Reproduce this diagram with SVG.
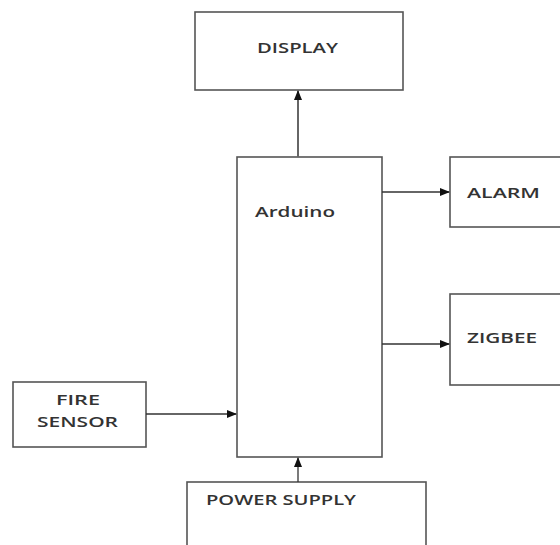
<svg xmlns="http://www.w3.org/2000/svg" width="560" height="545" viewBox="0 0 560 545">
<defs>
<marker id="ah" markerWidth="10" markerHeight="8" refX="9" refY="4" orient="auto" markerUnits="userSpaceOnUse">
<path d="M0,0 L10,4 L0,8 z" fill="#111"/>
</marker>
<style>
.box{fill:#fff;stroke:#555;stroke-width:1.6}
.lbl{font-family:"Open Sans","Liberation Sans",sans-serif;font-size:14px;font-weight:600;fill:#333}
.con{stroke:#333;stroke-width:1.3;fill:none}
</style>
</defs>
<rect width="560" height="545" fill="#fff"/>
<g id="display"><rect class="box" x="195" y="12" width="208" height="78"/><text class="lbl" x="257" y="53" textLength="81" lengthAdjust="spacingAndGlyphs">DISPLAY</text></g>
<g id="arduino"><rect class="box" x="237" y="157" width="145" height="300"/><text class="lbl" x="255" y="217" textLength="80" lengthAdjust="spacingAndGlyphs">Arduino</text></g>
<g id="alarm"><rect class="box" x="450" y="157" width="115" height="70"/><text class="lbl" x="467" y="198" textLength="73" lengthAdjust="spacingAndGlyphs">ALARM</text></g>
<g id="zigbee"><rect class="box" x="450" y="294" width="115" height="91"/><text class="lbl" x="467" y="343" textLength="70" lengthAdjust="spacingAndGlyphs">ZIGBEE</text></g>
<g id="fire-sensor"><rect class="box" x="13" y="382" width="133" height="65"/><text class="lbl" x="56" y="405" textLength="44" lengthAdjust="spacingAndGlyphs">FIRE</text><text class="lbl" x="37" y="427" textLength="81" lengthAdjust="spacingAndGlyphs">SENSOR</text></g>
<g id="power-supply"><rect class="box" x="187" y="482" width="239" height="80"/><text class="lbl" x="206" y="505" textLength="150" lengthAdjust="spacingAndGlyphs">POWER SUPPLY</text></g>
<g id="connectors">
<line class="con" x1="298" y1="157" x2="298" y2="91" marker-end="url(#ah)" style="stroke:#666;stroke-width:2"/>
<line class="con" x1="382" y1="192" x2="449" y2="192" marker-end="url(#ah)"/>
<line class="con" x1="382" y1="344" x2="449" y2="344" marker-end="url(#ah)"/>
<line class="con" x1="146" y1="414" x2="236" y2="414" marker-end="url(#ah)"/>
<line class="con" x1="298" y1="482" x2="298" y2="458" marker-end="url(#ah)"/>
</g>
</svg>
